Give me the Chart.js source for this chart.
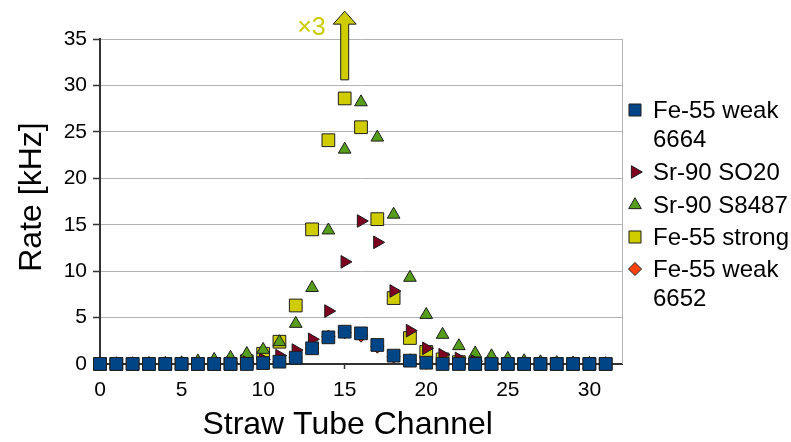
<!DOCTYPE html>
<html>
<head>
<meta charset="utf-8">
<title>Straw tube rates</title>
<script src="https://cdn.jsdelivr.net/npm/chart.js@4/dist/chart.umd.min.js"></script>
<style>
  html, body { margin: 0; padding: 0; background: #ffffff; }
  #wrap { position: relative; width: 791px; height: 442px; }
  canvas { display: block; }
</style>
</head>
<body>
<div id="wrap"><canvas id="c" width="791" height="442"></canvas></div>
<script>
// Straw tube channel numbers
const channels = [0,1,2,3,4,5,6,7,8,9,10,11,12,13,14,15,16,17,18,19,20,21,22,23,24,25,26,27,28,29,30,31];

// Measured rates per channel [kHz]
const fe55Weak6664 = [0,0,0,0,0,0,0,0,0,0,0.1,0.25,0.68,1.69,2.87,3.48,3.3,2.05,0.9,0.36,0.14,0,0,0,0,0,0,0,0,0,0,0];
const sr90SO20     = [0,0,0,0,0,0,0,0,0.1,0.2,0.5,0.9,1.5,2.66,5.7,11.0,15.4,13.1,7.86,3.59,1.69,1.0,0.6,0.3,0.1,0,0,0,0,0,0,0];
const sr90S8487    = [0,0,0,0.03,0.05,0.1,0.3,0.46,0.68,1.1,1.54,2.37,4.34,8.2,14.4,23.1,28.2,24.4,16.1,9.3,5.3,3.16,1.94,1.15,0.85,0.57,0.32,0.2,0.12,0.08,0.04,0];
const fe55Strong   = [0,0,0,0,0,0,0,0,0,0.3,1.1,2.4,6.3,14.5,24.1,28.6,25.5,15.6,7.1,2.8,1.3,0.5,0.2,0,0,0,0,0,0,0,0,0];
const fe55Weak6652 = [0,0,0,0,0,0,0,0,0,0,0.1,0.3,0.7,1.7,2.95,3.41,3.05,1.86,0.8,0.4,0.12,0,0,0,0,0,0,0,0,0,0,0];

// Axis ticks
const xTicks = [0,5,10,15,20,25,30];
const yTicks = [0,5,10,15,20,25,30,35];

// Scale-factor marker for the strong source
const arrowChannel = 15;
const arrowFrom = 30.6;
const arrowTo = 38.0;
const arrowLabel = '\u00d73';

const seriesNames = ['Fe-55 weak\n6664', 'Sr-90 SO20', 'Sr-90 S8487', 'Fe-55 strong', 'Fe-55 weak\n6652'];
const seriesValues = [fe55Weak6664, sr90SO20, sr90S8487, fe55Strong, fe55Weak6652];
const seriesStyle = [
  { color: '#004586', pointStyle: 'rect',     radius: 9,   rotation: 0 },
  { color: '#7e0021', pointStyle: 'triangle', radius: 7.3, rotation: 90 },
  { color: '#579d1c', pointStyle: 'triangle', radius: 7.3, rotation: 0 },
  { color: '#cfcc00', pointStyle: 'rect',     radius: 9,   rotation: 0 },
  { color: '#ff420e', pointStyle: 'rectRot',  radius: 6.5, rotation: 0 }
];

const FONT = "'Liberation Sans', Arial, sans-serif";
Chart.defaults.font.family = FONT;
Chart.defaults.color = '#000000';

const datasets = seriesValues.map((vals, i) => ({
  label: seriesNames[i],
  data: channels.map((c, k) => ({ x: c, y: vals[k] })),
  backgroundColor: seriesStyle[i].color,
  borderColor: '#1e1e1e',
  borderWidth: 1,
  pointStyle: seriesStyle[i].pointStyle,
  pointRadius: seriesStyle[i].radius,
  pointRotation: seriesStyle[i].rotation,
  pointHoverRadius: seriesStyle[i].radius,
  clip: false
}));

// Right edge of the plot frame
const frameRight = {
  id: 'frameRight',
  beforeDatasetsDraw(chart) {
    const { ctx, chartArea } = chart;
    ctx.save();
    ctx.strokeStyle = '#b3b3b3';
    ctx.lineWidth = 1;
    ctx.beginPath();
    ctx.moveTo(Math.round(chartArea.right) + 0.5, chartArea.top);
    ctx.lineTo(Math.round(chartArea.right) + 0.5, chartArea.bottom);
    ctx.stroke();
    ctx.restore();
  }
};

// Upward arrow with the scale factor
const scaleArrow = {
  id: 'scaleArrow',
  afterDraw(chart) {
    const { ctx } = chart;
    const xs = chart.scales.x, ys = chart.scales.y;
    const x = xs.getPixelForValue(arrowChannel);
    const yBottom = ys.getPixelForValue(arrowFrom);
    const yTop = ys.getPixelForValue(arrowTo);
    const headH = 13, headW = 11.5, shaftW = 4;
    ctx.save();
    ctx.fillStyle = '#cfcc00';
    ctx.strokeStyle = '#1e1e1e';
    ctx.lineWidth = 1;
    ctx.beginPath();
    ctx.moveTo(x - shaftW, yBottom);
    ctx.lineTo(x - shaftW, yTop + headH);
    ctx.lineTo(x - headW, yTop + headH);
    ctx.lineTo(x, yTop);
    ctx.lineTo(x + headW, yTop + headH);
    ctx.lineTo(x + shaftW, yTop + headH);
    ctx.lineTo(x + shaftW, yBottom);
    ctx.closePath();
    ctx.fill();
    ctx.stroke();
    ctx.fillStyle = '#cccc00';
    ctx.font = '25px ' + FONT;
    ctx.textAlign = 'right';
    ctx.textBaseline = 'middle';
    ctx.fillText(arrowLabel, x - 19, yTop + 17);
    ctx.restore();
  }
};

// Legend on the right
const sideLegend = {
  id: 'sideLegend',
  afterDraw(chart) {
    const { ctx } = chart;
    const markerX = 635, textX = 653;
    const rows = [110, 172, 205, 237, 269];
    ctx.save();
    ctx.font = '24px ' + FONT;
    ctx.textAlign = 'left';
    ctx.textBaseline = 'middle';
    seriesNames.forEach((name, i) => {
      const st = seriesStyle[i];
      ctx.fillStyle = st.color;
      ctx.strokeStyle = '#1e1e1e';
      ctx.lineWidth = 1;
      Chart.helpers.drawPoint(ctx, {
        pointStyle: st.pointStyle,
        radius: st.pointStyle === 'rect' ? 8.5 : st.radius,
        rotation: st.rotation,
        borderWidth: 1
      }, markerX, rows[i]);
      ctx.fillStyle = '#000000';
      name.split('\n').forEach((line, j) => {
        ctx.fillText(line, textX, rows[i] + 1 + j * 29);
      });
    });
    ctx.restore();
  }
};

new Chart(document.getElementById('c'), {
  type: 'scatter',
  data: { datasets },
  options: {
    responsive: false,
    animation: false,
    events: [],
    layout: { padding: { left: 0, top: 39, right: 169, bottom: 0 } },
    plugins: {
      legend: { display: false },
      tooltip: { enabled: false }
    },
    scales: {
      x: {
        type: 'linear',
        min: 0,
        max: 32,
        afterFit(scale) { scale.height = 78; },
        afterBuildTicks(scale) { scale.ticks = xTicks.map(v => ({ value: v })); },
        ticks: { font: { size: 21 }, padding: 9, maxRotation: 0, color: '#000' },
        grid: { drawOnChartArea: false, tickLength: 5, tickColor: '#333333', tickWidth: 1.5 },
        border: { color: '#333333', width: 2 },
        title: { display: true, text: 'Straw Tube Channel\u00a0\u00a0\u00a0', font: { size: 32 }, padding: { top: 0, bottom: -2 }, color: '#000' }
      },
      y: {
        type: 'linear',
        min: 0,
        max: 35,
        afterFit(scale) { scale.width = 100; },
        afterBuildTicks(scale) { scale.ticks = yTicks.map(v => ({ value: v })); },
        ticks: { font: { size: 21 }, padding: 6, color: '#000' },
        grid: { color: '#b3b3b3', lineWidth: 1, tickLength: 7, tickColor: '#333333', tickWidth: 1.5 },
        border: { color: '#333333', width: 2 },
        title: { display: true, text: '\u00a0Rate [kHz]', font: { size: 32 }, padding: { top: 13, bottom: 0 }, color: '#000' }
      }
    }
  },
  plugins: [frameRight, scaleArrow, sideLegend]
});
</script>
</body>
</html>
